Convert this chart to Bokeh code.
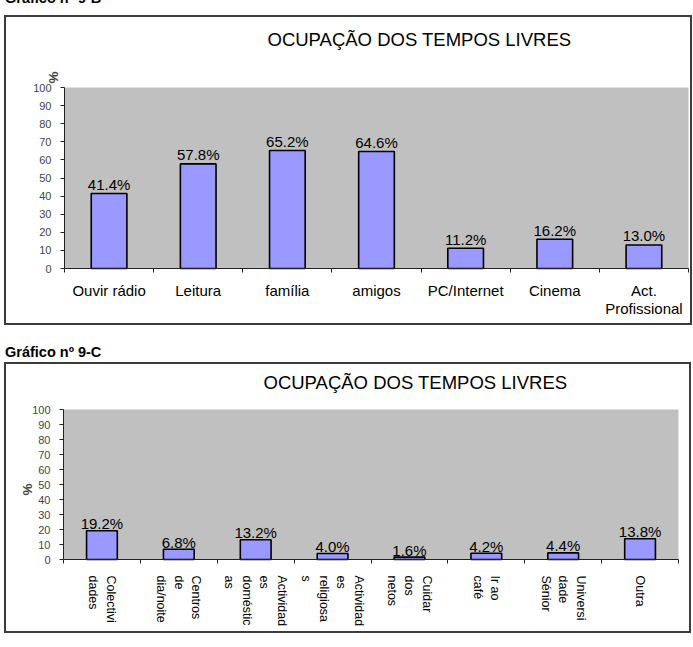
import math

from bokeh.embed import file_html
from bokeh.layouts import column
from bokeh.models import (BoxAnnotation, ColumnDataSource, Div, FixedTicker,
                          Label, Range1d)
from bokeh.plotting import figure
from bokeh.resources import INLINE

FONT = "Liberation Sans"

# Gráfico nº 9-B
cats_b = ["Ouvir rádio", "Leitura", "família", "amigos", "PC/Internet",
          "Cinema", "Act.\nProfissional"]
vals_b = [41.4, 57.8, 65.2, 64.6, 11.2, 16.2, 13.0]

# Gráfico nº 9-C
cats_c = ["Colectivi\ndades", "Centros\nde\ndia/noite",
          "Actividad\nes\ndoméstic\nas", "Actividad\nes\nreligiosa\ns",
          "Cuidar\ndos\nnetos", "Ir ao\ncafé", "Universi\ndade\nSénior", "Outra"]
vals_c = [19.2, 6.8, 13.2, 4.0, 1.6, 4.2, 4.4, 13.8]

y_ticks = list(range(0, 101, 10))
chart_title = "OCUPAÇÃO DOS TEMPOS LIVRES"
# frame drawn around each chart without taking layout space
box_style = {"box-shadow": "0 0 0 2px #3c3c3c"}


def span_range(lo, hi, px_lo, px_hi, total):
    """Range whose [lo, hi] lands on pixels [px_lo, px_hi] of a canvas `total` wide."""
    k = (px_hi - px_lo) / (hi - lo)
    return Range1d(lo - px_lo / k, hi + (total - px_hi) / k)


def bar_chart(cats, vals, width, height, area_x, area_y, title_pos,
              label_size, label_orientation, label_standoff, value_offset,
              label_line_height):
    n = len(cats)
    centers = [i + 0.5 for i in range(n)]
    src = ColumnDataSource(dict(
        x=centers, top=vals, label=[f"{v:.1f}%" for v in vals]))
    p = figure(width=width, height=height,
               x_range=span_range(0, n, area_x[0], area_x[1], width),
               y_range=span_range(0, 100, area_y[0], area_y[1], height),
               output_backend="svg", toolbar_location=None,
               min_border=0, background_fill_color="white",
               border_fill_color="white", outline_line_color=None)
    p.margin = (0, 0, 0, 6)
    p.styles = box_style
    p.grid.visible = False

    # grey plot area behind the bars
    p.add_layout(BoxAnnotation(left=0, right=n, bottom=0, top=100,
                               fill_color="#C0C0C0", fill_alpha=1.0,
                               line_color=None, level="underlay"))

    tx, ty = title_pos
    p.add_layout(Label(x=0, y=100, x_offset=tx, y_offset=ty, text=chart_title,
                       text_align="left", text_baseline="middle",
                       text_font=FONT, text_font_size="18.5px",
                       text_color="black"))

    p.vbar(x="x", top="top", width=0.4, source=src,
           fill_color="#9999FF", line_color="black", line_width=1.6)
    p.text(x="x", y="top", text="label", source=src, y_offset=-value_offset,
           text_align="center", text_baseline="alphabetic",
           text_font={"value": FONT}, text_font_size="15px", text_color="black")

    xa = p.xaxis[0]
    xa.fixed_location = 0
    xa.bounds = (0, n)
    xa.ticker = FixedTicker(ticks=centers, minor_ticks=list(range(n + 1)))
    xa.major_label_overrides = {c: lab for c, lab in zip(centers, cats)}
    xa.major_tick_in = 0
    xa.major_tick_out = 0
    xa.minor_tick_in = 0
    xa.minor_tick_out = 4
    xa.axis_line_color = "#222222"
    xa.minor_tick_line_color = "#222222"
    xa.major_label_text_font = FONT
    xa.major_label_text_font_size = label_size
    xa.major_label_text_color = "black"
    xa.major_label_text_line_height = label_line_height
    xa.major_label_standoff = label_standoff
    xa.major_label_orientation = label_orientation

    ya = p.yaxis[0]
    ya.fixed_location = 0
    ya.bounds = (0, 100)
    ya.ticker = FixedTicker(ticks=y_ticks)
    ya.major_tick_in = 0
    ya.major_tick_out = 4
    ya.minor_tick_out = 0
    ya.minor_tick_in = 0
    ya.axis_line_color = "#222222"
    ya.major_tick_line_color = "#222222"
    ya.major_label_text_font = FONT
    ya.major_label_text_font_size = "11px"
    ya.major_label_text_color = "#444444"
    ya.major_label_standoff = 9
    return p


def percent_mark(y, dx, dy):
    return Label(x=0, y=y, x_offset=dx, y_offset=dy, text="%",
                 angle=math.pi / 2, text_align="center", text_baseline="middle",
                 text_font=FONT, text_font_size="13.5px", text_font_style="bold")


# canvas 684x306; plot area spans x 58..682 and y 55..236 (from the bottom)
p1 = bar_chart(cats_b, vals_b, 684, 306, (58, 682), (55, 236), (203, 48),
               "15px", "horizontal", 9, 9, 1.1)
p1.add_layout(percent_mark(100, -11, 10))

# canvas 683x267; plot area spans x 57..672 and y 72..222 (from the bottom)
p2 = bar_chart(cats_c, vals_c, 683, 267, (57, 672), (72, 222), (200, 27),
               "12.5px", -math.pi / 2, 12, 7, 1.25)
p2.add_layout(percent_mark(50, -36, -5))

head_style = ("position:relative;left:5px;line-height:15px;white-space:nowrap;"
              "font-family:'Liberation Sans';font-weight:bold;font-size:14.5px;")
head_b = Div(text=f'<div style="{head_style}top:-9px">Gráfico nº 9-B</div>',
             width=300, height=17, margin=(0, 0, 0, 0))
head_c = Div(text=f'<div style="{head_style}top:22px">Gráfico nº 9-C</div>',
             width=300, height=41, margin=(0, 0, 0, 0))

page = column(head_b, p1, head_c, p2, spacing=0)
open("out.html", "w").write(file_html(page, INLINE, title="Ocupação dos tempos livres"))
